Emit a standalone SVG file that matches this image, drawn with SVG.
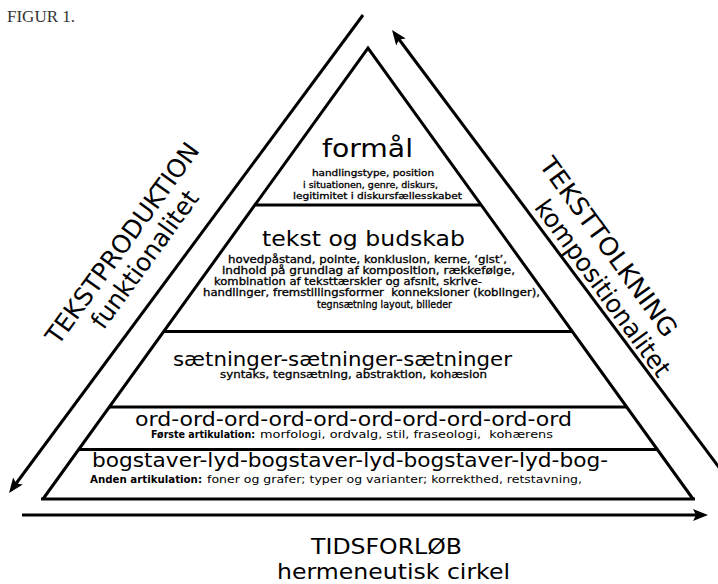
<svg xmlns="http://www.w3.org/2000/svg" width="718" height="584" viewBox="0 0 718 584">
<defs>
<style>
.hd{font-family:"DejaVu Sans",Verdana,sans-serif;fill:#000}
.sub{font-family:"DejaVu Sans",Verdana,sans-serif;font-size:10px;fill:#000;stroke:#000;stroke-width:0.3}
.lab{font-family:"DejaVu Sans",Verdana,sans-serif;font-size:10px;fill:#000;font-weight:bold}
.reg{font-family:"DejaVu Sans",Verdana,sans-serif;font-size:10px;fill:#000}
.side{font-family:"DejaVu Sans",Verdana,sans-serif;font-size:25px;fill:#000}
.edge{stroke:#000;stroke-width:3;fill:none}
.arr{stroke:#000;stroke-width:3;fill:none;marker-end:url(#ah)}
</style>
<marker id="ah" viewBox="0 -7 16 14" refX="5" refY="0" markerWidth="16" markerHeight="14" markerUnits="userSpaceOnUse" orient="auto">
<path d="M0,-6 L15,0 L0,6 L3,0 z" fill="#000"/>
</marker>
</defs>
<rect width="718" height="584" fill="#fff"/>
<text x="7" y="22" font-family="Liberation Serif,serif" font-size="17" fill="#333">FIGUR 1.</text>

<g id="connectors">
<line class="arr" x1="363" y1="15" x2="15" y2="485"/>
<line class="arr" x1="727" y1="478" x2="398" y2="38"/>
<line class="arr" x1="22" y1="515" x2="698" y2="515"/>
</g>

<g id="pyramid">
<path class="edge" d="M43,499 L368,48 L693,499" stroke-linejoin="miter"/>
<line class="edge" x1="41" y1="499" x2="695" y2="499"/>
</g>

<g id="formaal">
<text class="hd" x="367.5" y="157" font-size="25" text-anchor="middle" textLength="91" lengthAdjust="spacingAndGlyphs">formål</text>
<text class="sub" x="373" y="176" text-anchor="middle" textLength="122" lengthAdjust="spacingAndGlyphs" style="font-size:9px">handlingstype, position</text>
<text class="sub" x="370.5" y="187.5" text-anchor="middle" textLength="135" lengthAdjust="spacingAndGlyphs" style="font-size:9px">i situationen, genre, diskurs,</text>
<text class="sub" x="377.5" y="199" text-anchor="middle" textLength="169" lengthAdjust="spacingAndGlyphs" style="font-size:9px">legitimitet i diskursfællesskabet</text>
<line class="edge" x1="255" y1="205" x2="481" y2="205"/>
</g>

<g id="tekst">
<text class="hd" x="262" y="246" font-size="21" textLength="203" lengthAdjust="spacingAndGlyphs">tekst og budskab</text>
<text class="sub" x="228" y="262.5" textLength="279" lengthAdjust="spacingAndGlyphs">hovedpåstand, pointe, konklusion, kerne, ‘gist’,</text>
<text class="sub" x="222" y="273.8" textLength="293" lengthAdjust="spacingAndGlyphs">indhold på grundlag af komposition, rækkefølge,</text>
<text class="sub" x="214" y="285.1" textLength="268" lengthAdjust="spacingAndGlyphs">kombination af teksttærskler og afsnit, skrive-</text>
<text class="sub" x="203" y="296.4" textLength="337" lengthAdjust="spacingAndGlyphs" xml:space="preserve">handlinger, fremstillingsformer  konneksioner (koblinger),</text>
<text class="sub" x="317" y="307.7" textLength="135" lengthAdjust="spacingAndGlyphs">tegnsætning layout, billeder</text>
<line class="edge" x1="164" y1="331.5" x2="572" y2="331.5" stroke-width="3.5"/>
</g>

<g id="saetninger">
<text class="hd" x="173" y="366" font-size="19" textLength="339" lengthAdjust="spacingAndGlyphs">sætninger-sætninger-sætninger</text>
<text class="sub" x="220" y="378" textLength="267" lengthAdjust="spacingAndGlyphs">syntaks, tegnsætning, abstraktion, kohæsion</text>
<line class="edge" x1="109" y1="407" x2="627" y2="407"/>
</g>

<g id="ord">
<text class="hd" x="135" y="426" font-size="19" textLength="437" lengthAdjust="spacingAndGlyphs">ord-ord-ord-ord-ord-ord-ord-ord-ord-ord</text>
<text class="lab" x="151" y="438" textLength="104" lengthAdjust="spacingAndGlyphs">Første artikulation:</text>
<text class="reg" x="260" y="438" textLength="293" lengthAdjust="spacingAndGlyphs" xml:space="preserve">morfologi, ordvalg, stil, fraseologi,  kohærens</text>
<line class="edge" x1="79" y1="449.5" x2="657" y2="449.5" stroke-width="5"/>
</g>

<g id="bogstaver">
<text class="hd" x="92" y="467" font-size="19" textLength="516" lengthAdjust="spacingAndGlyphs">bogstaver-lyd-bogstaver-lyd-bogstaver-lyd-bog-</text>
<text class="lab" x="90" y="483" textLength="112" lengthAdjust="spacingAndGlyphs">Anden artikulation:</text>
<text class="reg" x="207" y="483" textLength="375" lengthAdjust="spacingAndGlyphs">foner og grafer; typer og varianter; korrekthed, retstavning,</text>
</g>

<g id="tekstproduktion" transform="translate(133,251) rotate(-54)">
<text class="side" x="0" y="-4.5" text-anchor="middle" textLength="242" lengthAdjust="spacingAndGlyphs">TEKSTPRODUKTION</text>
<text class="side" x="0" y="23" text-anchor="middle" textLength="164" lengthAdjust="spacingAndGlyphs">funktionalitet</text>
</g>

<g id="teksttolkning" transform="translate(606.5,267) rotate(54)">
<text class="side" x="-15" y="-5" text-anchor="middle" textLength="215" lengthAdjust="spacingAndGlyphs">TEKSTTOLKNING</text>
<text class="side" x="15" y="24" text-anchor="middle" textLength="212" lengthAdjust="spacingAndGlyphs">kompositionalitet</text>
</g>

<g id="tidsforloeb">
<text class="hd" x="311" y="554" font-size="21" textLength="151" lengthAdjust="spacingAndGlyphs">TIDSFORLØB</text>
<text class="hd" x="277" y="579" font-size="21" textLength="233" lengthAdjust="spacingAndGlyphs">hermeneutisk cirkel</text>
</g>
</svg>
